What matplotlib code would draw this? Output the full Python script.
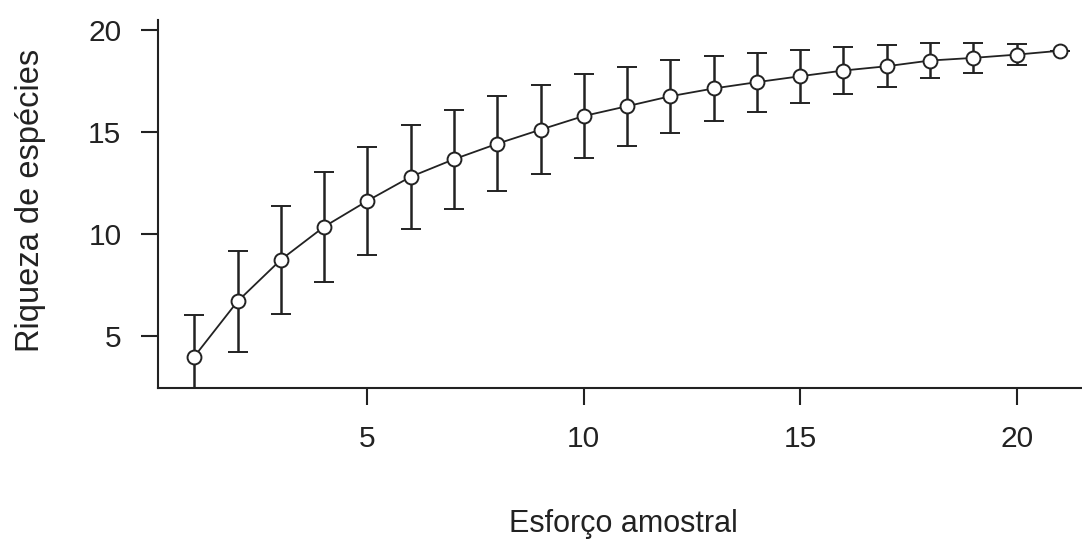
import matplotlib
matplotlib.use("Agg")
import matplotlib.pyplot as plt

# esforço amostral (x), riqueza média e desvio
esforco = [1, 2, 3, 4, 5, 6, 7, 8, 9, 10, 11, 12, 13, 14, 15, 16, 17, 18, 19, 20, 21]
riqueza = [4.0, 6.71, 8.75, 10.37, 11.64, 12.82, 13.68, 14.44, 15.13, 15.8, 16.28,
           16.77, 17.15, 17.46, 17.75, 18.03, 18.24, 18.52, 18.65, 18.81, 19.0]
desvio = [2.03, 2.47, 2.65, 2.7, 2.65, 2.55, 2.42, 2.33, 2.18, 2.08, 1.94,
          1.78, 1.58, 1.45, 1.3, 1.15, 1.03, 0.86, 0.72, 0.5, 0.0]
xticks = [5, 10, 15, 20]
yticks = [5, 10, 15, 20]

plt.rcParams['font.family'] = ['Liberation Sans', 'DejaVu Sans']
cor = '#222222'

fig = plt.figure(figsize=(10.82, 5.39), dpi=100)
ax = fig.add_axes([0.1463, 0.2796, 0.8537, 0.6834])

ax.errorbar(esforco, riqueza, yerr=desvio, color=cor, lw=1.3,
            elinewidth=1.8, capsize=7, capthick=1.8,
            marker='o', markersize=10, markerfacecolor='white',
            markeredgecolor=cor, markeredgewidth=1.4)

ax.set_xlim(0.17, 21.51)
ax.set_ylim(2.45, 20.51)
ax.set_xticks(xticks)
ax.set_yticks(yticks)

for s in ['top', 'right']:
    ax.spines[s].set_visible(False)
for s in ['left', 'bottom']:
    ax.spines[s].set_color(cor)
    ax.spines[s].set_linewidth(1.5)

ax.tick_params(axis='both', length=12.5, width=1.5, color=cor,
               labelsize=21.5, labelcolor=cor, pad=14)

ax.set_xlabel('Esforço amostral', fontsize=22, color=cor)
ax.set_ylabel('Riqueza de espécies', fontsize=23.5, color=cor)
ax.xaxis.set_label_coords(0.503, -0.328)
ax.yaxis.set_label_coords(-0.122, 0.511)

fig.savefig('out.png', dpi=100)
